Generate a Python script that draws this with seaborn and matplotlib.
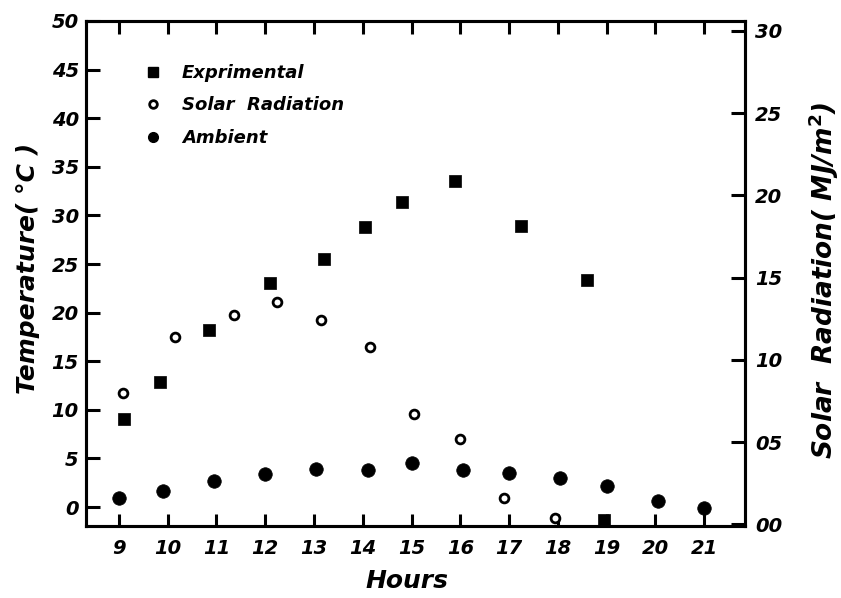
import matplotlib
matplotlib.use("Agg")
import matplotlib.pyplot as plt
from matplotlib.lines import Line2D
import seaborn as sns
import pandas as pd

# ---- data ----
hours_exp = [9.1, 9.85, 10.85, 12.1, 13.2, 14.05, 14.8, 15.9, 17.25, 18.6, 18.95]
temp_exp = [9.1, 12.9, 18.2, 23.0, 25.5, 28.8, 31.4, 33.5, 28.9, 23.4, -1.3]

hours_solar = [9.08, 10.15, 11.35, 12.25, 13.15, 14.15, 15.05, 16.0, 16.9, 17.95]
solar_rad = [8.0, 11.4, 12.7, 13.5, 12.4, 10.8, 6.7, 5.2, 1.6, 0.4]

hours_amb = [9.0, 9.9, 10.95, 12.0, 13.05, 14.1, 15.0, 16.05, 17.0, 18.05, 19.0, 20.05, 21.0]
temp_amb = [0.95, 1.7, 2.7, 3.35, 3.95, 3.8, 4.5, 3.85, 3.55, 3.0, 2.2, 0.65, -0.1]

hour_ticks = list(range(9, 22))
temp_ticks = [0, 5, 10, 15, 20, 25, 30, 35, 40, 45, 50]
temp_ticklabels = ["0", "5", "10", "15", "20", "25", "30", "35", "40", "45", "50"]
solar_ticks = [0, 5, 10, 15, 20, 25, 30]
solar_ticklabels = ["00", "05", "10", "15", "20", "25", "30"]

series_names = ["Exprimental", "Solar  Radiation", "Ambient"]

df_exp = pd.DataFrame({"Hours": hours_exp, "Temp": temp_exp})
df_sol = pd.DataFrame({"Hours": hours_solar, "Solar": solar_rad})
df_amb = pd.DataFrame({"Hours": hours_amb, "Temp": temp_amb})

sns.set_style("ticks")
plt.rcParams["font.family"] = ["DejaVu Sans"]
for k in ("text.color", "axes.labelcolor", "xtick.color", "ytick.color", "axes.edgecolor"):
    plt.rcParams[k] = "black"

fig = plt.figure(figsize=(8.41, 5.98), dpi=100)
ax = fig.add_axes([0.102, 0.1204, 0.784, 0.8445])
ax2 = ax.twinx()

sns.scatterplot(data=df_exp, x="Hours", y="Temp", ax=ax, marker="s", s=80,
                color="black", edgecolor="black", linewidth=0.5, clip_on=False, zorder=3)
sns.scatterplot(data=df_amb, x="Hours", y="Temp", ax=ax, marker="o", s=95,
                color="black", edgecolor="black", linewidth=0.5, clip_on=False, zorder=3)
sns.scatterplot(data=df_sol, x="Hours", y="Solar", ax=ax2, marker="o", s=40,
                facecolor="white", edgecolor="black", linewidth=2.0, clip_on=False, zorder=3)

ax.set_xlim(8.32, 21.84)
ax.set_ylim(-1.95, 50)
ax2.set_ylim(-0.1, 30.6)

lw = 2.2
for a in (ax, ax2):
    for sp in a.spines.values():
        sp.set_linewidth(lw)
        sp.set_color("black")

ax.set_xticks(hour_ticks)
ax.set_xticklabels([str(h) for h in hour_ticks])
ax.set_yticks(temp_ticks)
ax.set_yticklabels(temp_ticklabels)
ax2.set_yticks(solar_ticks)
ax2.set_yticklabels(solar_ticklabels)

for lab in ax.get_xticklabels() + ax.get_yticklabels() + ax2.get_yticklabels():
    lab.set_fontsize(14)
    lab.set_fontstyle("italic")
    lab.set_fontweight("semibold")

ax.tick_params(axis="x", direction="in", length=9, width=2.2, top=True, bottom=True, pad=9)
ax.tick_params(axis="y", direction="in", length=10, width=2.2, left=True, right=False, pad=5)
ax2.tick_params(axis="y", direction="in", length=10, width=2.2, right=True, left=False, pad=7)

ax.set_xlabel("Hours", fontsize=18, fontweight="bold", fontstyle="italic")
ax.xaxis.set_label_coords(0.487, -0.085)
ax.set_ylabel("Temperature( °C )", fontsize=18, fontweight="bold", fontstyle="italic")
ax.yaxis.set_label_coords(-0.07, 0.51)
ax2.set_ylabel("Solar  Radiation( MJ/m$^\\mathbf{2}$)", fontsize=19, fontweight="bold",
               fontstyle="italic")
ax2.yaxis.set_label_coords(1.093, 0.487)

handles = [
    Line2D([], [], ls="none", marker="s", markersize=7, color="black"),
    Line2D([], [], ls="none", marker="o", markersize=5.5, markerfacecolor="white",
           markeredgecolor="black", markeredgewidth=2),
    Line2D([], [], ls="none", marker="o", markersize=7, color="black"),
]
ax.legend(handles, series_names, loc="upper left", bbox_to_anchor=(0.05, 0.947),
          frameon=False, handletextpad=0.6, labelspacing=0.8,
          prop=dict(size=13, style="italic", weight="semibold"))

fig.savefig("out.png", dpi=100)
